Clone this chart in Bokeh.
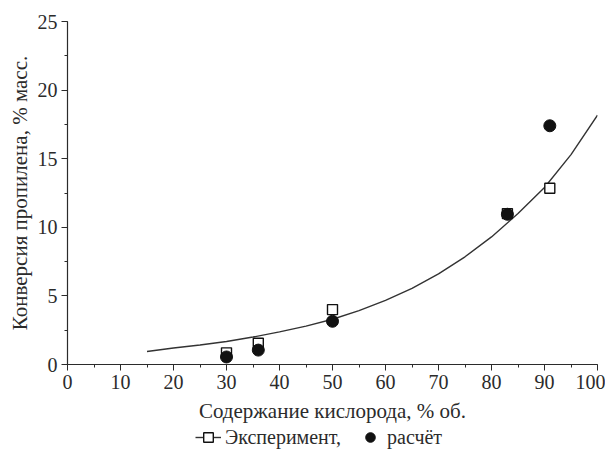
from bokeh.plotting import figure
from bokeh.models import Range1d, SingleIntervalTicker, Legend, LegendItem, Label
from bokeh.layouts import column
from bokeh.embed import file_html
from bokeh.resources import INLINE

# Data
oxygen = [30, 36, 50, 83, 91]
experiment = [0.85, 1.55, 4.0, 11.0, 12.85]
calculated = [0.55, 1.05, 3.15, 10.95, 17.4]

curve_x = [15, 20, 25, 30, 35, 40, 45, 50, 55, 60, 65, 70, 75, 80, 85, 90, 95, 100]
curve_y = [0.95, 1.2, 1.42, 1.68, 2.0, 2.38, 2.8, 3.3, 3.93, 4.68, 5.55, 6.6, 7.85, 9.3, 11.0, 12.9, 15.3, 18.17]

x_label = "Содержание кислорода, % об."
y_label = "Конверсия пропилена, % масс."
label_exp = "Эксперимент,"
label_calc = "расчёт"

FONT = "Liberation Serif"
INK = "#2b2b2b"

LINE_STYLE = dict(line_color="#333333", line_width=1.4)
SQ_STYLE = dict(marker="square", size=10, fill_color="white", line_color="#111111", line_width=1.4)
CIRC_STYLE = dict(marker="circle", size=12, fill_color="#111111", line_color="#111111")

p = figure(width=605, height=400, output_backend="svg", toolbar_location=None,
           x_range=Range1d(0, 100), y_range=Range1d(0, 25),
           min_border_left=67, min_border_right=8, min_border_top=21, min_border_bottom=36)
p.outline_line_color = None
p.xgrid.visible = False
p.ygrid.visible = False

p.line(curve_x, curve_y, **LINE_STYLE)
p.scatter(oxygen, experiment, **SQ_STYLE)
p.scatter(oxygen, calculated, **CIRC_STYLE)

for ax in (p.xaxis[0], p.yaxis[0]):
    ax.axis_line_color = INK
    ax.axis_line_width = 1.2
    ax.major_tick_line_color = INK
    ax.minor_tick_line_color = INK
    ax.major_tick_in = 0
    ax.major_tick_out = 6
    ax.minor_tick_in = 0
    ax.minor_tick_out = 3
    ax.major_label_text_font = FONT
    ax.major_label_text_font_size = "20px"
    ax.major_label_text_color = INK
    ax.axis_label_text_font = FONT
    ax.axis_label_text_font_size = "21px"
    ax.axis_label_text_font_style = "normal"
    ax.axis_label_text_color = INK

p.xaxis.ticker = SingleIntervalTicker(interval=10, num_minor_ticks=2)
p.yaxis.ticker = SingleIntervalTicker(interval=5, num_minor_ticks=2)
p.yaxis.axis_label = y_label
p.xaxis.major_label_standoff = 4
p.yaxis.major_label_standoff = 4
p.yaxis.axis_label_standoff = 3

# Lower strip: x-axis title and legend (legend swatches come from renderers kept out of view)
lf = figure(width=605, height=52, output_backend="svg", toolbar_location=None,
            x_range=Range1d(1000, 1100), y_range=Range1d(1000, 1100),
            x_axis_location=None, y_axis_location=None,
            min_border_left=0, min_border_right=0, min_border_top=0, min_border_bottom=0)
lf.outline_line_color = None
lf.xgrid.visible = False
lf.ygrid.visible = False

l_line = lf.line(curve_x, curve_y, **LINE_STYLE)
l_sq = lf.scatter(oxygen, experiment, **SQ_STYLE)
l_circ = lf.scatter(oxygen, calculated, **CIRC_STYLE)

lf.add_layout(Label(x=265, y=42, x_units="screen", y_units="screen", text=x_label,
                    text_align="center", text_baseline="middle", text_font=FONT,
                    text_font_size="21px", text_color=INK))

legend = Legend(items=[LegendItem(label=label_exp, renderers=[l_line, l_sq]),
                       LegendItem(label=label_calc, renderers=[l_circ])],
                orientation="horizontal", location=(128, 3),
                border_line_color=None, background_fill_alpha=0,
                label_text_font=FONT, label_text_font_size="20px", label_text_color=INK,
                glyph_width=26, glyph_height=24, label_height=24, label_standoff=4, spacing=16,
                padding=0, margin=0)
lf.add_layout(legend)

layout = column(p, lf, spacing=0)
open("out.html", "w").write(file_html(layout, INLINE))
